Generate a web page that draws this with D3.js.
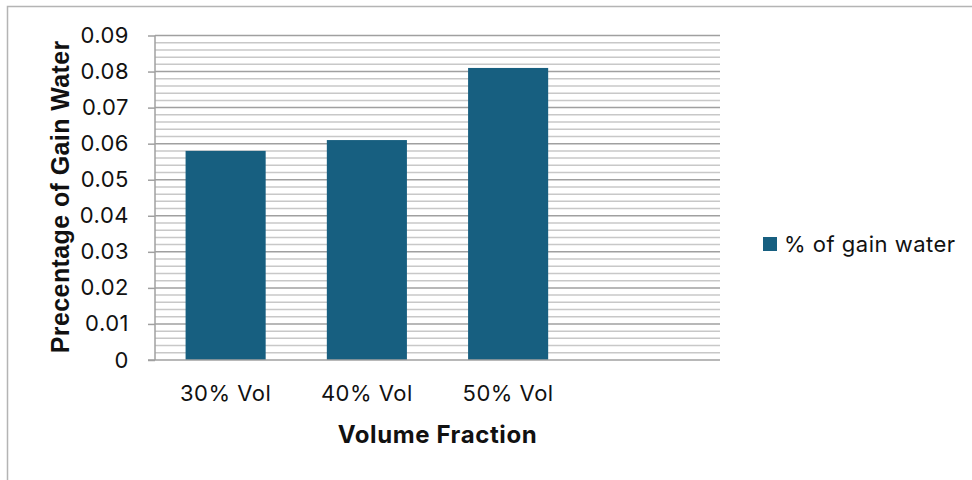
<!DOCTYPE html>
<html>
<head>
<meta charset="utf-8">
<script src="https://cdn.jsdelivr.net/npm/d3@7"></script>
<style>
  html, body { margin: 0; padding: 0; background: #fff; }
  svg { display: block; }
</style>
</head>
<body>
<script>
// Water gain by volume fraction
const categories = ["30% Vol", "40% Vol", "50% Vol", ""];
const gainWater = [0.058, 0.061, 0.081, null];
const yTicks = [0, 0.01, 0.02, 0.03, 0.04, 0.05, 0.06, 0.07, 0.08, 0.09];
const seriesName = "% of gain water";
const xTitle = "Volume Fraction";
const yTitle = "Precentage of Gain Water";

const W = 972, H = 480;
const plot = { left: 155, right: 720, top: 35.5, bottom: 360 };
const barColor = "#175f80";
const labelFont = "Inter, 'Open Sans', sans-serif";
const labelSize = 22, labelSpacing = "0.5px";

const svg = d3.select("body").append("svg")
  .attr("width", W).attr("height", H);

// outer frame (left and top edges visible)
svg.append("path")
  .attr("d", `M7.5,${H} L7.5,6.5 L${W},6.5`)
  .attr("fill", "none").attr("stroke", "#b4b4b4").attr("stroke-width", 1.5);

const y = d3.scaleLinear().domain([0, 0.09]).range([plot.bottom, plot.top]);
const x = d3.scaleBand().domain(categories)
  .range([plot.left, plot.right])
  .paddingInner(0.433).paddingOuter(0.2165);

// minor gridlines every 0.002
const minor = d3.range(0, 0.0901, 0.002).filter(v => Math.abs(v / 0.01 - Math.round(v / 0.01)) > 1e-6);
svg.append("g").selectAll("line").data(minor).join("line")
  .attr("x1", plot.left).attr("x2", plot.right)
  .attr("y1", d => y(d)).attr("y2", d => y(d))
  .attr("stroke", "#c8c8c8").attr("stroke-width", 1.5);

// major gridlines
svg.append("g").selectAll("line").data(yTicks.filter(v => v > 0)).join("line")
  .attr("x1", plot.left).attr("x2", plot.right)
  .attr("y1", d => y(d)).attr("y2", d => y(d))
  .attr("stroke", "#a0a0a0").attr("stroke-width", 1.5);

// bars
svg.append("g").selectAll("rect")
  .data(categories.map((c, i) => ({ c, v: gainWater[i] })).filter(d => d.v != null))
  .join("rect")
  .attr("x", d => x(d.c)).attr("width", x.bandwidth())
  .attr("y", d => y(d.v)).attr("height", d => y(0) - y(d.v))
  .attr("fill", barColor);

// y axis
const yAxis = svg.append("g")
  .attr("transform", `translate(${plot.left},0)`)
  .call(d3.axisLeft(y).tickValues(yTicks).tickSize(7).tickPadding(19)
    .tickFormat(d => d === 0 ? "0" : d3.format(".2f")(d)));
yAxis.select(".domain").attr("stroke", "#a0a0a0").attr("stroke-width", 1.5)
  .attr("d", `M0,${plot.top}V${plot.bottom}`);
yAxis.selectAll(".tick line").attr("stroke", "#a0a0a0").attr("stroke-width", 1.5);
yAxis.selectAll(".tick text")
  .attr("font-family", labelFont).attr("font-size", labelSize)
  .attr("letter-spacing", labelSpacing).attr("fill", "#111");

// x axis
const xAxis = svg.append("g")
  .attr("transform", `translate(0,${plot.bottom})`)
  .call(d3.axisBottom(x).tickSize(0).tickPadding(25));
xAxis.select(".domain").attr("stroke", "#a0a0a0").attr("stroke-width", 1.5)
  .attr("d", `M${plot.left - 7},0H${plot.right}`);
xAxis.selectAll(".tick text")
  .attr("font-family", labelFont).attr("font-size", labelSize)
  .attr("letter-spacing", labelSpacing).attr("fill", "#111");

// axis titles
svg.append("text")
  .attr("x", (plot.left + plot.right) / 2).attr("y", 443)
  .attr("text-anchor", "middle")
  .attr("font-family", labelFont).attr("font-weight", 700).attr("font-size", 24)
  .attr("letter-spacing", "0.6px")
  .attr("fill", "#111").text(xTitle);

svg.append("text")
  .attr("transform", `translate(69,${(plot.top + plot.bottom) / 2 - 1}) rotate(-90)`)
  .attr("text-anchor", "middle")
  .attr("font-family", "'Liberation Sans', Arial, sans-serif").attr("font-weight", 700)
  .attr("font-size", 25).attr("letter-spacing", "0.4px")
  .attr("fill", "#111").text(yTitle);

// legend
const legend = svg.append("g").attr("transform", "translate(763,244)");
legend.append("rect").attr("x", 0).attr("y", -7).attr("width", 14).attr("height", 14)
  .attr("fill", barColor);
legend.append("text").attr("x", 21).attr("y", 0).attr("dy", "0.35em")
  .attr("font-family", labelFont).attr("font-size", labelSize)
  .attr("letter-spacing", labelSpacing).attr("fill", "#111")
  .text(seriesName);
</script>
</body>
</html>
